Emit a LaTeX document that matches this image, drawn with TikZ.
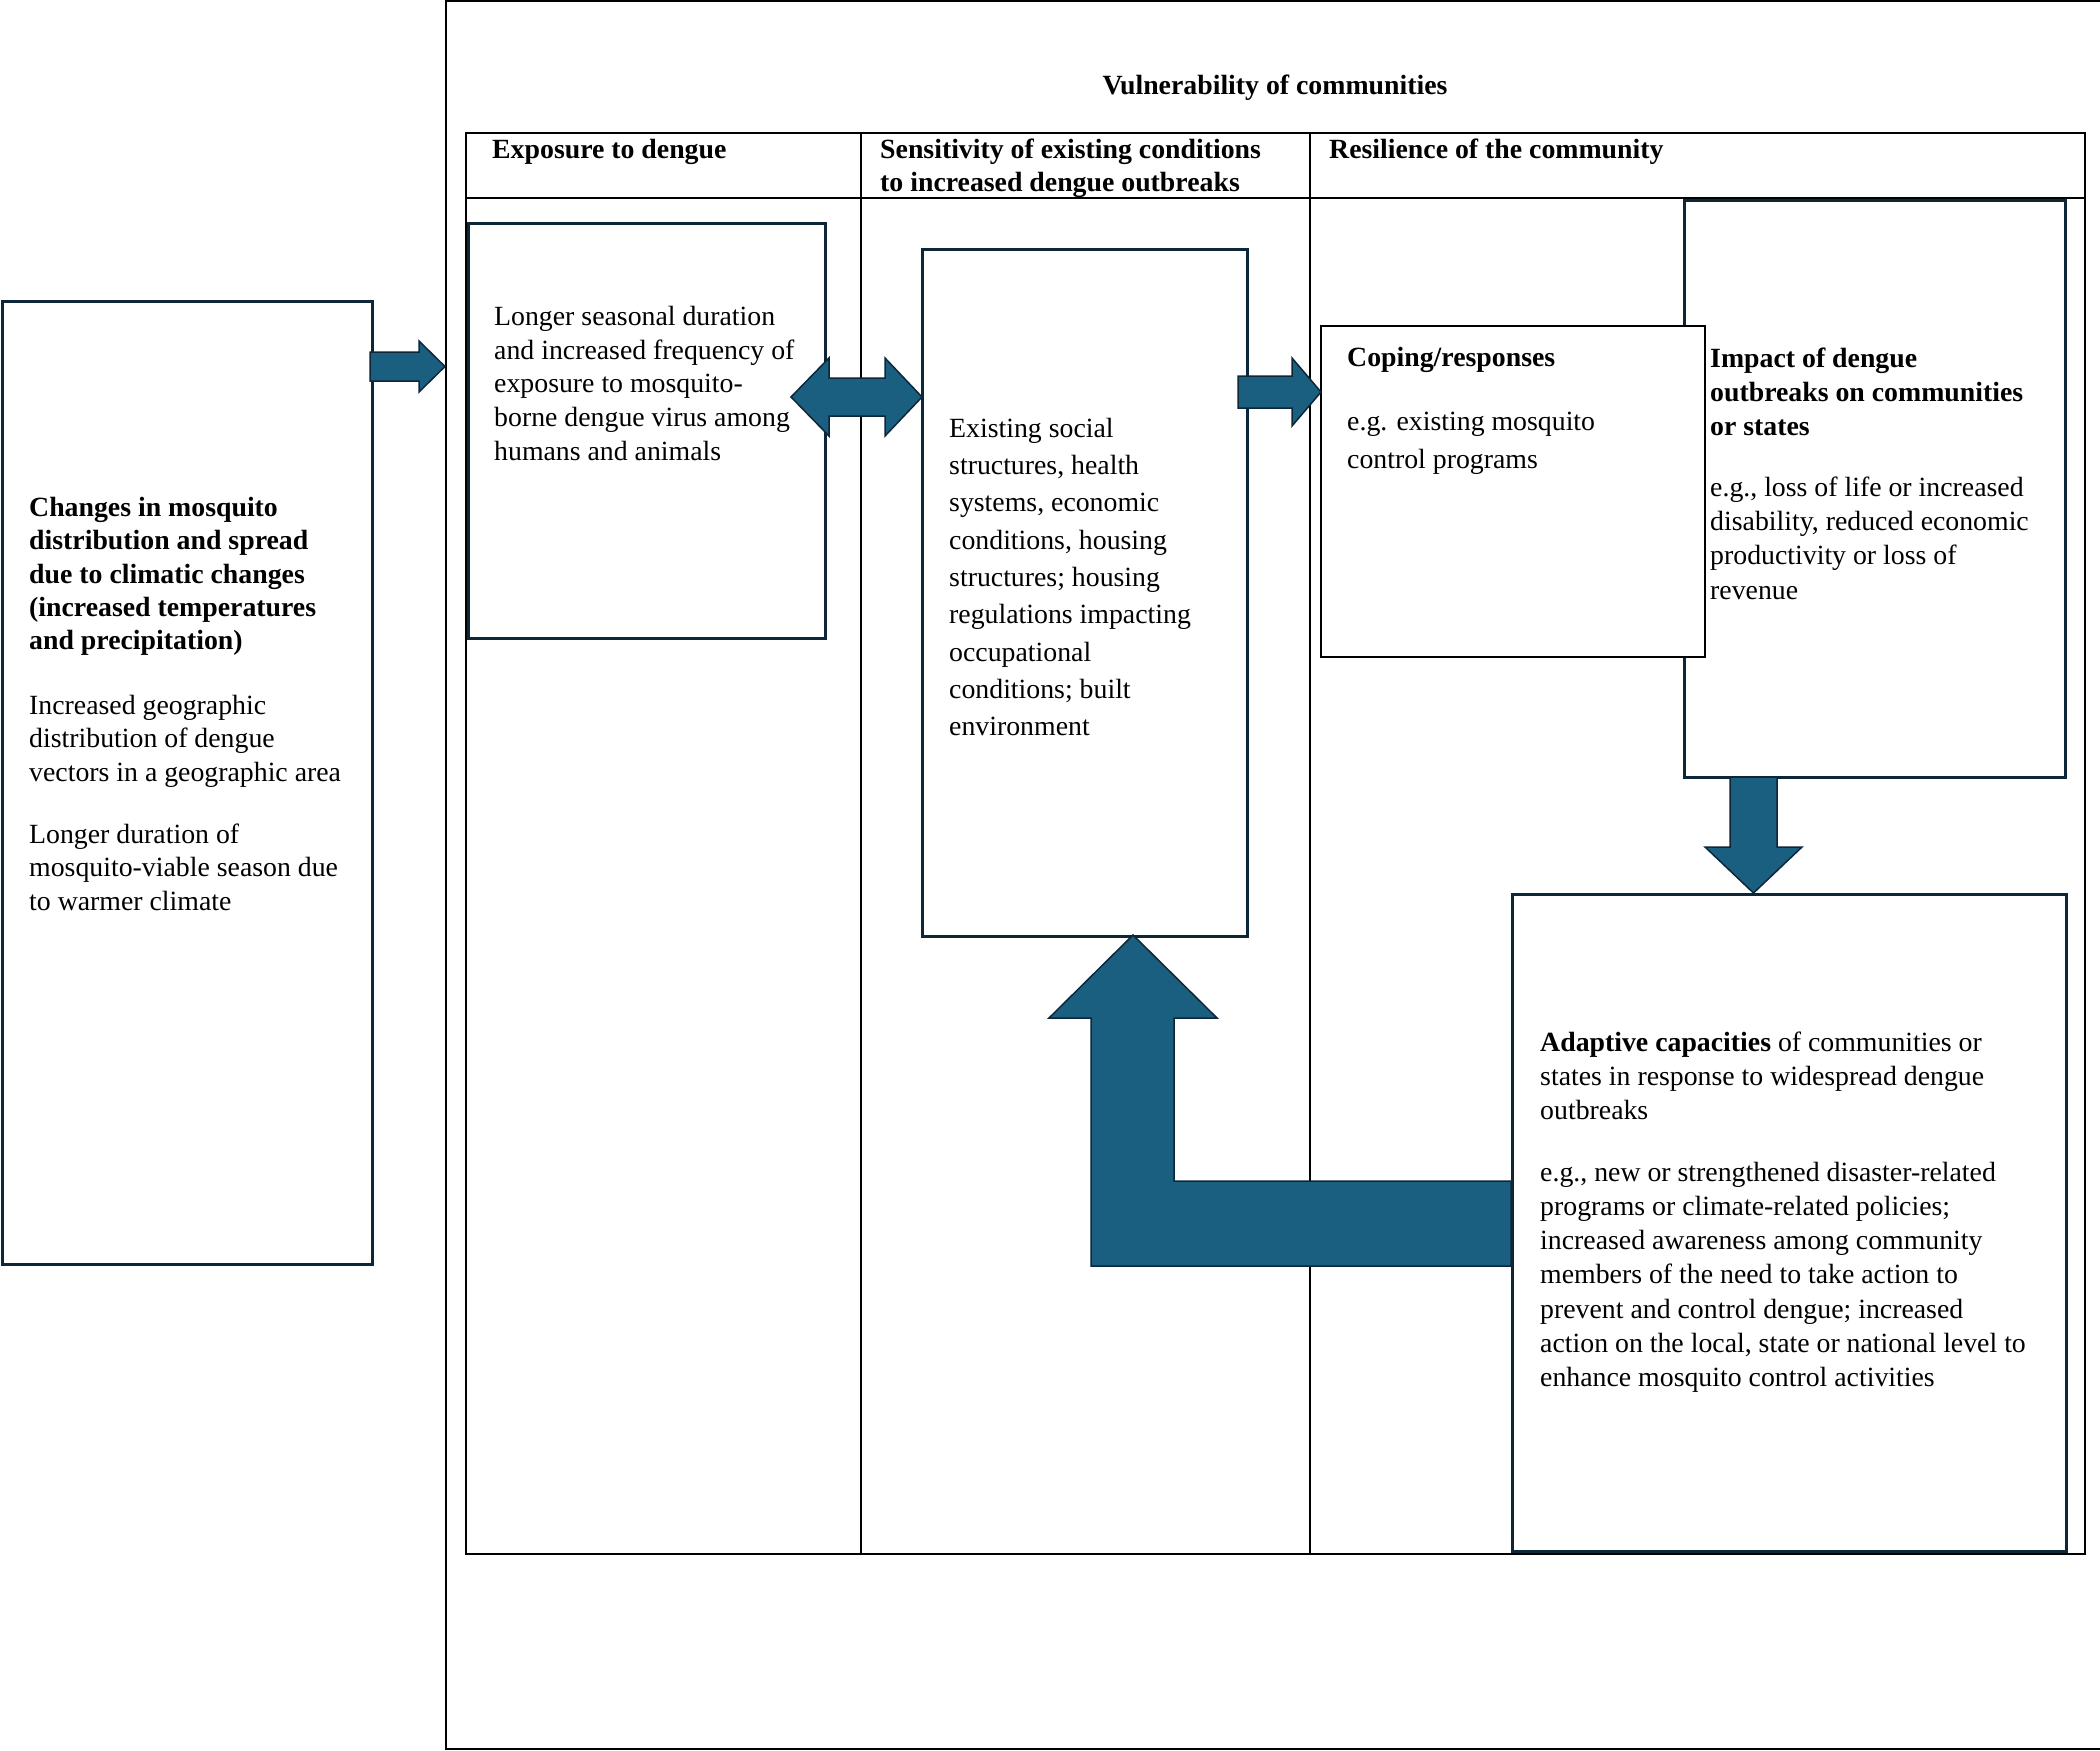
\documentclass[tikz,border=0pt]{standalone}
\usepackage{fontspec}
\setmainfont{Liberation Serif}
\definecolor{arrfill}{HTML}{1A5F80}
\definecolor{navy}{HTML}{0D2638}
\tikzset{
 tbl/.style={draw=black, line width=1.6pt},
 bx/.style={draw=navy, line width=3pt, fill=white, inner sep=0pt, anchor=north west},
 cbx/.style={draw=black, line width=1.6pt, fill=white, inner sep=0pt, anchor=north west},
 arr/.style={fill=arrfill, draw=navy, line width=1.5pt, line join=miter},
 txt/.style={anchor=north west, inner sep=0pt, align=left, font=\fontsize{27.8}{33.5}\selectfont},
 btxt/.style={txt, font=\fontsize{27.8}{33.5}\selectfont\bfseries},
 lbl/.style={anchor=base west, inner sep=0pt, font=\fontsize{27.8}{33.5}\selectfont\bfseries},
}
\newcommand{\fst}{\rule{0pt}{20pt}}
\begin{document}
\begin{tikzpicture}[x=1pt,y=-1pt]
\useasboundingbox (0,0) rectangle (2100,1750);
\fill[white] (0,0) rectangle (2100,1750);
% outer frame
\draw[line width=2pt] (2110,1.5) -- (446,1.5) -- (446,1748.5) -- (2110,1748.5);
\node[lbl, anchor=base] (title) at (1275,95) {Vulnerability of communities};
% table
\draw[tbl] (466,133) rectangle (2085,1554);
\draw[tbl] (466,198) -- (2085,198);
\draw[tbl] (861,133) -- (861,1554);
\draw[tbl] (1310,133) -- (1310,1554);
\node[lbl] (hexp) at (492,158) {Exposure to dengue};
\node[btxt, font=\fontsize{27.8}{33}\selectfont\bfseries] (hsen) at (880,138) {\fst Sensitivity of existing conditions\\to increased dengue outbreaks};
\node[lbl] (hres) at (1329,158) {Resilience of the community};
% left box
\node[bx, minimum width=370pt, minimum height=963pt] (lbox) at (0.5,300) {};
\node[btxt, font=\fontsize{27.8}{33.4}\selectfont\bfseries] (lt1) at (29,496) {\fst Changes in mosquito\\distribution and spread\\due to climatic changes\\(increased temperatures\\and precipitation)};
\node[txt] (lt2) at (29,694) {\fst Increased geographic\\distribution of dengue\\vectors in a geographic area};
\node[txt] (lt3) at (29,823) {\fst Longer duration of\\mosquito-viable season due\\to warmer climate};
% exposure box
\node[bx, minimum width=357pt, minimum height=415pt] (ebox) at (467,222) {};
\node[txt, font=\fontsize{27.8}{33.8}\selectfont] (et) at (494,305) {\fst Longer seasonal duration\\and increased frequency of\\exposure to mosquito-\\borne dengue virus among\\humans and animals};
% sensitivity box
\node[bx, minimum width=325pt, minimum height=687pt] (sbox) at (921,248) {};
\node[txt, font=\fontsize{27.8}{37.3}\selectfont] (st) at (949,417) {\fst Existing social\\structures, health\\systems, economic\\conditions, housing\\structures; housing\\regulations impacting\\occupational\\conditions; built\\environment};
% impact box
\node[bx, minimum width=381pt, minimum height=577pt] (ibox) at (1683,199) {};
\node[btxt, font=\fontsize{27.8}{34.2}\selectfont\bfseries] (it1) at (1710,347) {\fst Impact of dengue\\outbreaks on communities\\or states};
\node[txt, font=\fontsize{27.8}{34.3}\selectfont] (it2) at (1710,476) {\fst e.g., loss of life or increased\\disability, reduced economic\\productivity or loss of\\revenue};
% coping box
\node[cbx, minimum width=384pt, minimum height=331pt] (cbox) at (1320,325) {};
\node[lbl] (ct1) at (1347,366) {Coping/responses};
\node[txt, font=\fontsize{27.8}{38}\selectfont] (ct2) at (1347,410) {\fst e.g. existing mosquito\\control programs};
% adaptive box
\node[bx, minimum width=554pt, minimum height=657pt] (abox) at (1511,893) {};
\node[txt, font=\fontsize{27.8}{34.2}\selectfont] (at1) at (1540,1031) {\fst\textbf{Adaptive capacities} of communities or\\states in response to widespread dengue\\outbreaks};
\node[txt, font=\fontsize{27.8}{34.2}\selectfont] (at2) at (1540,1161) {\fst e.g., new or strengthened disaster-related\\programs or climate-related policies;\\increased awareness among community\\members of the need to take action to\\prevent and control dengue; increased\\action on the local, state or national level to\\enhance mosquito control activities};
% arrows
\filldraw[arr] (370,352) -- (419,352) -- (419,341) -- (445,366.5) -- (419,392) -- (419,381) -- (370,381) -- cycle;
\filldraw[arr] (791,397) -- (829,358) -- (829,378) -- (885,378) -- (885,358) -- (922,397) -- (885,436) -- (885,416) -- (829,416) -- (829,436) -- cycle;
\filldraw[arr] (1238,376) -- (1292,376) -- (1292,358) -- (1321,392) -- (1292,426) -- (1292,408) -- (1238,408) -- cycle;
\filldraw[arr] (1730,777) -- (1777,777) -- (1777,847) -- (1802,847) -- (1753.5,893) -- (1705,847) -- (1730,847) -- cycle;
\filldraw[arr] (1133,935) -- (1217,1018) -- (1174,1018) -- (1174,1181) -- (1511,1181) -- (1511,1266) -- (1091,1266) -- (1091,1018) -- (1049,1018) -- cycle;
\end{tikzpicture}
\end{document}
